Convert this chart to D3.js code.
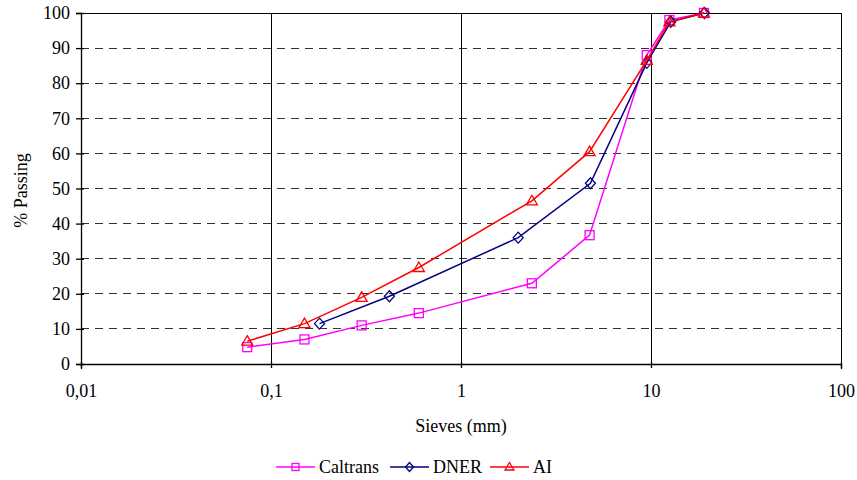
<!doctype html>
<html>
  <head>
    <meta charset="utf-8">
    <title>Gradation</title>
    <script src="https://cdn.jsdelivr.net/npm/d3@7"></script>
    <style>
      body { margin: 0; background: #fff; }
      svg text { font-family: "Liberation Serif", "Times New Roman", serif; fill: #000; }
    </style>
  </head>
  <body>
    <script>
      // sieve sizes (mm) and % passing per spec
      const caltransSieves = [0.075, 0.15, 0.3, 0.6, 2.36, 4.75, 9.5, 12.5, 19];
      const caltransPassing = [4.8, 7, 11, 14.5, 23, 36.7, 88, 98, 100];
      const dnerSieves = [0.18, 0.42, 2.0, 4.8, 9.5, 12.7, 19.1];
      const dnerPassing = [11.5, 19.3, 36, 51.5, 85.8, 97.5, 100];
      const aiSieves = [0.075, 0.15, 0.3, 0.6, 2.36, 4.75, 9.5, 12.5, 19];
      const aiPassing = [6.5, 11.5, 19, 27.5, 46.5, 60.5, 86.5, 97.5, 100];
      const xTicks = [0.01, 0.1, 1, 10, 100];
      const xTickLabels = ['0,01', '0,1', '1', '10', '100'];
      const yTicks = [0, 10, 20, 30, 40, 50, 60, 70, 80, 90, 100];

      const width = 857, height = 480;
      const margin = { left: 81, right: 16, top: 13, bottom: 116 };
      const iw = width - margin.left - margin.right;
      const ih = height - margin.top - margin.bottom;
      const fs = 18;

      const svg = d3.select('body').append('svg')
          .attr('width', width)
          .attr('height', height);
      const g = svg.append('g').attr('transform', `translate(${margin.left},${margin.top})`);

      const x = d3.scaleLog().domain([0.01, 100]).range([0, iw]);
      const y = d3.scaleLinear().domain([0, 100]).range([ih, 0]);

      // horizontal dashed grid
      g.selectAll('.hgrid').data(yTicks.filter(d => d > 0 && d < 100)).enter().append('line')
          .attr('x1', 0).attr('x2', iw)
          .attr('y1', d => y(d)).attr('y2', d => y(d))
          .attr('stroke', '#333').attr('stroke-width', 1)
          .attr('stroke-dasharray', '8,6')
          .attr('shape-rendering', 'crispEdges');

      // vertical solid grid
      g.selectAll('.vgrid').data(xTicks.slice(1)).enter().append('line')
          .attr('x1', d => x(d)).attr('x2', d => x(d))
          .attr('y1', 0).attr('y2', ih)
          .attr('stroke', '#000').attr('stroke-width', 1)
          .attr('shape-rendering', 'crispEdges');

      // top border
      g.append('line').attr('x1', 0).attr('x2', iw).attr('y1', 0).attr('y2', 0)
          .attr('stroke', '#000').attr('shape-rendering', 'crispEdges');

      // axes
      const xAxis = g.append('g').attr('transform', `translate(0,${ih})`)
          .call(d3.axisBottom(x).tickValues(xTicks).tickFormat((d, i) => xTickLabels[i]).tickSize(5).tickPadding(15));
      const yAxis = g.append('g')
          .call(d3.axisLeft(y).tickValues(yTicks).tickSize(5).tickPadding(6));
      [xAxis, yAxis].forEach(a => {
        a.attr('font-family', null).attr('font-size', null);
        a.selectAll('path, line').attr('stroke', '#000').attr('stroke-width', 1.3);
        a.selectAll('text').attr('font-size', fs);
      });
      xAxis.selectAll('.tick line').attr('y1', -2).attr('y2', 4);
      yAxis.selectAll('.tick line').attr('x1', 3).attr('x2', -5);

      svg.append('text')
          .attr('x', margin.left + iw / 2).attr('y', 432)
          .attr('text-anchor', 'middle').attr('font-size', fs)
          .text('Sieves (mm)');
      svg.append('text')
          .attr('transform', `translate(27,${margin.top + ih / 2 + 2}) rotate(-90)`)
          .attr('text-anchor', 'middle').attr('font-size', fs)
          .text('% Passing');

      const series = [
        { name: 'Caltrans', color: '#ff00ff', symbol: 'square', sieves: caltransSieves, values: caltransPassing },
        { name: 'DNER', color: '#000080', symbol: 'diamond', sieves: dnerSieves, values: dnerPassing },
        { name: 'AI', color: '#ff0000', symbol: 'triangle', sieves: aiSieves, values: aiPassing }
      ];

      const line = d3.line().x(d => x(d[0])).y(d => y(d[1]));

      function marker(sel, sym, cx, cy, color, r) {
        if (sym === 'square') {
          sel.append('rect').attr('x', cx - r).attr('y', cy - r).attr('width', 2 * r).attr('height', 2 * r)
              .attr('fill', 'none').attr('stroke', color).attr('stroke-width', 1.3);
        } else if (sym === 'diamond') {
          sel.append('path').attr('d', `M${cx},${cy - r - 1}L${cx + r + 0.5},${cy}L${cx},${cy + r + 1}L${cx - r - 0.5},${cy}Z`)
              .attr('fill', 'none').attr('stroke', color).attr('stroke-width', 1.3);
        } else {
          sel.append('path').attr('d', `M${cx},${cy - r - 1}L${cx + r + 1},${cy + r - 0.5}L${cx - r - 1},${cy + r - 0.5}Z`)
              .attr('fill', 'none').attr('stroke', color).attr('stroke-width', 1.3);
        }
      }

      series.forEach(s => {
        const pts = s.sieves.map((v, i) => [v, s.values[i]]);
        g.append('path').datum(pts)
            .attr('d', line).attr('fill', 'none')
            .attr('stroke', s.color).attr('stroke-width', 1.5);
        const mg = g.append('g');
        pts.forEach(p => marker(mg, s.symbol, x(p[0]), y(p[1]), s.color, 4.5));
      });

      // legend
      const legend = svg.append('g').attr('transform', 'translate(0,467)');
      const legendX = [276, 390, 490];
      series.forEach((s, i) => {
        const lx = legendX[i];
        legend.append('line').attr('x1', lx).attr('x2', lx + 39).attr('y1', 0).attr('y2', 0)
            .attr('stroke', s.color).attr('stroke-width', 1.5);
        marker(legend, s.symbol, lx + 19.5, 0, s.color, 3.5);
        legend.append('text').attr('x', lx + 43).attr('y', 6)
            .attr('font-size', fs).text(s.name);
      });
    </script>
  </body>
</html>
